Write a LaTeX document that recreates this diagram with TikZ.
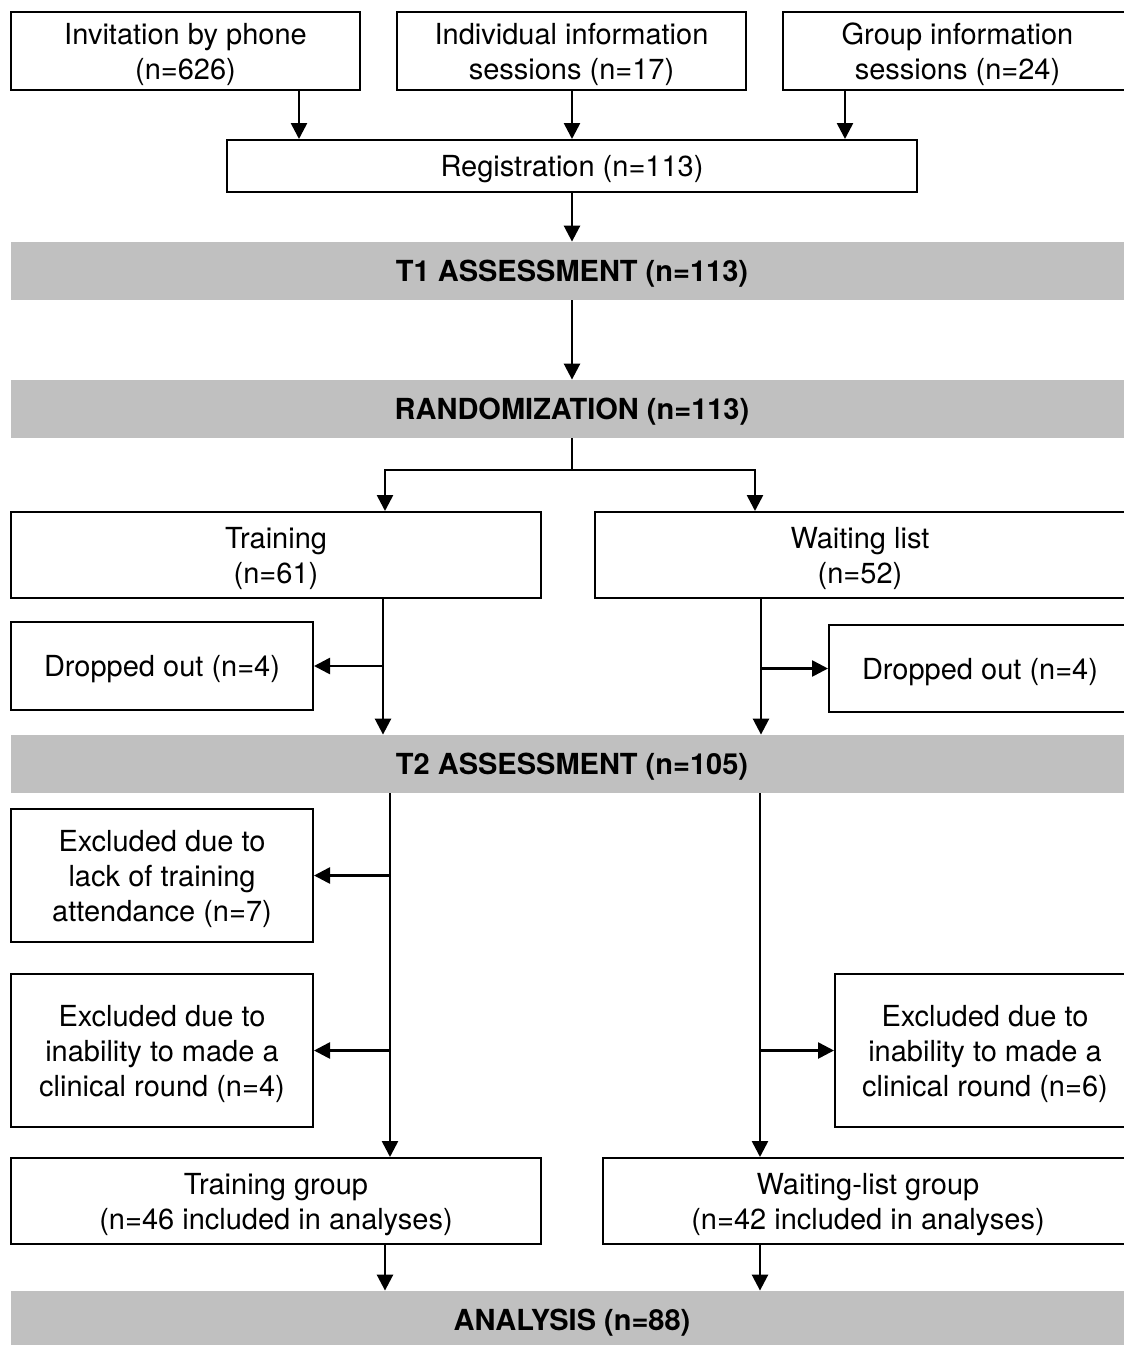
\documentclass[tikz,border=0pt]{standalone}
\usepackage{fontspec}
\setmainfont{TeX Gyre Heros}
\usetikzlibrary{arrows.meta}
\definecolor{bargray}{HTML}{C0C0C0}

\tikzset{
  box/.style={draw, line width=1pt, align=center, inner sep=0pt, text depth=0pt},
  bar/.style={fill=bargray, inner sep=0pt, text depth=0pt, minimum width=561pt, minimum height=29pt, font=\fontsize{14.5}{17.5}\selectfont\bfseries},
  conn/.style={line width=1.3pt},
  arr/.style={line width=1.3pt, -{Triangle[width=8pt,length=8pt]}}
}

\begin{document}
\begin{tikzpicture}[x=0.5pt, y=-0.5pt, font=\fontsize{14.5}{17.5}\selectfont]

        \useasboundingbox (0,0) rectangle (1124,1345);

        \node[box, minimum width=174.5pt, minimum height=39pt] (phone) at (185.5, 51) {Invitation by phone\\(n=626)};
        \node[box, minimum width=174.5pt, minimum height=39pt] (indiv) at (571.5, 51) {Individual information\\sessions (n=17)};
        \node[box, minimum width=174.5pt, minimum height=39pt] (group) at (957.5, 51) {Group information\\sessions (n=24)};
        \node[box, minimum width=345pt, minimum height=26pt] (reg) at (572, 166) {Registration (n=113)};
        \node[bar] (tone) at (572, 271) {T1 ASSESSMENT (n=113)};
        \node[bar] (rand) at (572, 409) {RANDOMIZATION (n=113)};
        \node[box, minimum width=265pt, minimum height=43pt] (train) at (276, 555) {Training\\(n=61)};
        \node[box, minimum width=265pt, minimum height=43pt] (wait) at (860, 555) {Waiting list\\(n=52)};
        \node[box, minimum width=151pt, minimum height=44pt] (dropl) at (162, 666) {Dropped out (n=4)};
        \node[box, minimum width=151pt, minimum height=43.5pt] (dropr) at (980, 668.5) {Dropped out (n=4)};
        \node[bar] (ttwo) at (572, 764) {T2 ASSESSMENT (n=105)};
        \node[box, minimum width=151pt, minimum height=66.5pt] (exla) at (162, 875.5) {Excluded due to\\lack of training\\attendance (n=7)};
        \node[box, minimum width=151pt, minimum height=76.5pt] (exlb) at (162, 1050.5) {Excluded due to\\inability to made a\\clinical round (n=4)};
        \node[box, minimum width=150pt, minimum height=76.5pt] (exr) at (985, 1050.5) {Excluded due to\\inability to made a\\clinical round (n=6)};
        \node[box, minimum width=265pt, minimum height=43pt] (trgrp) at (276, 1201) {Training group\\(n=46 included in analyses)};
        \node[box, minimum width=265pt, minimum height=43pt] (wlgrp) at (868, 1201) {Waiting-list group\\(n=42 included in analyses)};
        \node[bar] (ana) at (572, 1320) {ANALYSIS (n=88)};

        \coordinate (cphone) at (299, 0);
        \coordinate (cmid) at (572, 0);
        \coordinate (cgroup) at (845, 0);
        \coordinate (fork) at (572, 470);
        \coordinate (ctl) at (385, 0);
        \coordinate (cwl) at (755, 0);
        \coordinate (ctrain) at (383, 0);
        \coordinate (cwait) at (761, 0);
        \coordinate (cexl) at (390, 0);
        \coordinate (cexr) at (760, 0);

        \draw[arr] (phone.south -| cphone) -- (reg.north -| cphone);
        \draw[arr] (indiv.south -| cmid) -- (reg.north -| cmid);
        \draw[arr] (group.south -| cgroup) -- (reg.north -| cgroup);
        \draw[arr] (reg.south) -- (tone.north);
        \draw[arr] (tone.south) -- (rand.north);

        \draw[conn] (rand.south) -- (fork);
        \draw[arr] (fork) -| (train.north -| ctl);
        \draw[arr] (fork) -| (wait.north -| cwl);

        \draw[arr] (train.south -| ctrain) -- (ttwo.north -| ctrain);
        \draw[arr] (dropl.east -| ctrain) -- (dropl.east);
        \draw[arr] (wait.south -| cwait) -- (ttwo.north -| cwait);
        \draw[arr] (dropr.west -| cwait) -- (dropr.west);

        \draw[arr] (ttwo.south -| cexl) -- (trgrp.north -| cexl);
        \draw[arr] (exla.east -| cexl) -- (exla.east);
        \draw[arr] (exlb.east -| cexl) -- (exlb.east);
        \draw[arr] (ttwo.south -| cexr) -- (wlgrp.north -| cexr);
        \draw[arr] (exr.west -| cexr) -- (exr.west);

        \draw[arr] (trgrp.south -| ctl) -- (ana.north -| ctl);
        \draw[arr] (wlgrp.south -| cexr) -- (ana.north -| cexr);

\end{tikzpicture}
\end{document}
